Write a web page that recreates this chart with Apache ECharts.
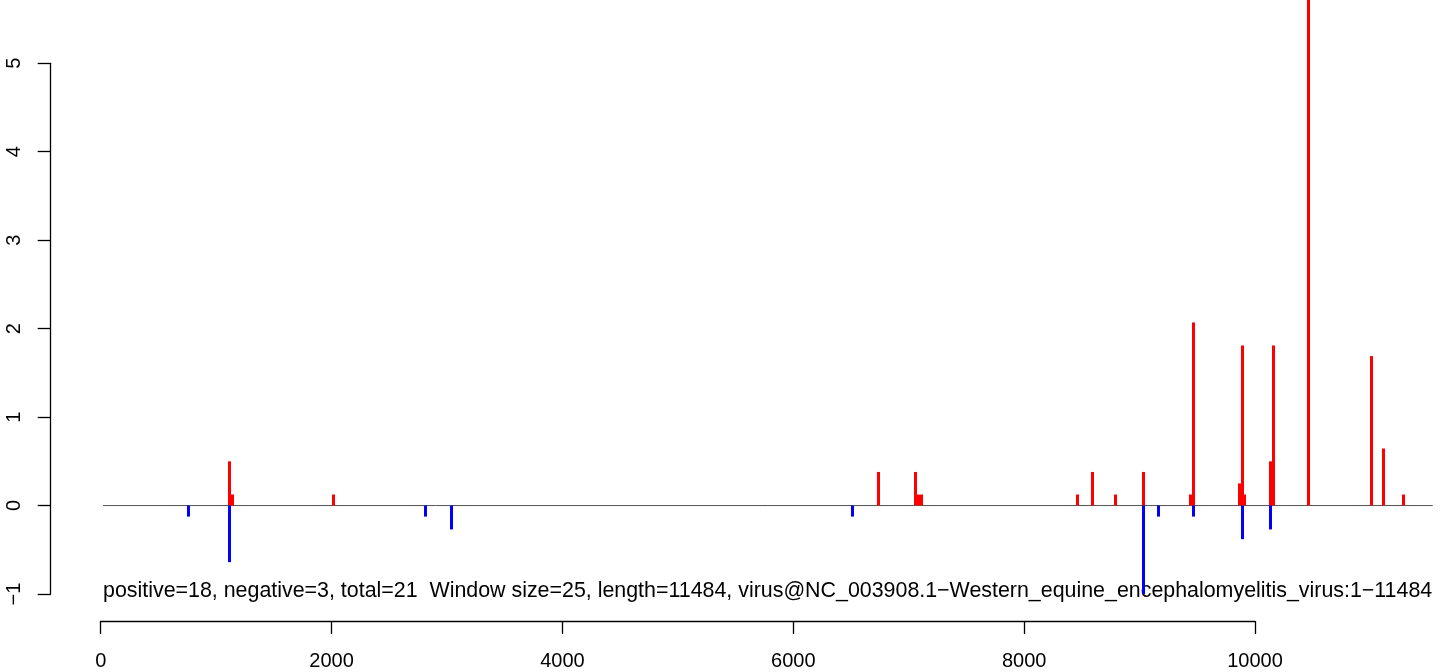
<!DOCTYPE html>
<html>
<head>
<meta charset="utf-8">
<script src="https://cdn.jsdelivr.net/npm/echarts@6/dist/echarts.min.js"></script>
<style>
html,body{margin:0;padding:0;background:#fff;}
#chart{width:1450px;height:672px;}
</style>
</head>
<body>
<div id="chart"></div>
<script>
// window start positions and scores
const WINDOW = 25;
const posX   = [1100, 1125, 2000, 6725, 7050, 7075, 7100, 8450, 8575, 8775, 9025, 9425, 9450, 9850, 9875, 9900, 10125, 10150, 10450, 11000, 11100, 11275];
const posVal = [0.5, 0.125, 0.125, 0.38, 0.38, 0.125, 0.125, 0.125, 0.38, 0.125, 0.38, 0.125, 2.07, 0.25, 1.81, 0.125, 0.5, 1.81, 5.9, 1.69, 0.645, 0.125];
const negX   = [750, 1100, 2800, 3025, 6500, 9025, 9150, 9450, 9875, 10125];
const negVal = [-0.125, -0.64, -0.125, -0.27, -0.125, -1.03, -0.125, -0.125, -0.38, -0.27];
const zeroLineX = [20, 11540];
const xTicks = [0, 2000, 4000, 6000, 8000, 10000];
const yTicks = [-1, 0, 1, 2, 3, 4, 5];
const infoText = 'positive=18, negative=3, total=21  Window size=25, length=11484, virus@NC_003908.1\u2212Western_equine_encephalomyelitis_virus:1\u221211484';

const FONT = "'Liberation Sans', Arial, sans-serif";

function barRenderer(color) {
  return function (params, api) {
    const x = api.value(0), v = api.value(1);
    const p0 = api.coord([x, 0]);
    const p1 = api.coord([x + WINDOW, v]);
    const x0 = Math.round(p0[0]);
    const x1 = Math.max(Math.round(p1[0]), x0 + 3);
    return {
      type: 'rect',
      shape: { x: x0, y: Math.min(p0[1], p1[1]), width: x1 - x0, height: Math.abs(p1[1] - p0[1]) },
      style: { fill: color }
    };
  };
}

const chart = echarts.init(document.getElementById('chart'), null, { renderer: 'canvas' });
const option = {
  animation: false,
  backgroundColor: '#ffffff',
  title: {
    text: infoText,
    left: 103, top: 580, z: 0, padding: 0,
    textStyle: { fontFamily: FONT, fontSize: 21.4, fontWeight: 'normal', color: '#000', lineHeight: 22 }
  },
  grid: [
    { left: 100.7, top: 0, width: 1339, height: 594 },            // data
    { left: 50.7, top: 63.3, width: 10, height: 530.7 },          // y axis
    { left: 100.7, top: 600, width: 1154.3, height: 21 }          // x axis
  ],
  xAxis: [
    { gridIndex: 0, type: 'value', min: 0, max: 11600, show: false },
    { gridIndex: 1, type: 'value', min: 0, max: 1, show: false },
    { gridIndex: 2, type: 'value', min: 0, max: 10000, interval: 2000, position: 'bottom',
      axisLine: { show: true, lineStyle: { color: '#000', width: 1.3 } },
      axisTick: { show: true, length: 13, lineStyle: { color: '#000', width: 1.3 } },
      axisLabel: { show: true, margin: 30, fontFamily: FONT, fontSize: 20, color: '#000',
        customValues: xTicks, formatter: v => String(v) },
      splitLine: { show: false } }
  ],
  yAxis: [
    { gridIndex: 0, type: 'value', min: -1, max: 5.716, show: false },
    { gridIndex: 1, type: 'value', min: -1, max: 5, interval: 1, position: 'left',
      axisLine: { show: true, lineStyle: { color: '#000', width: 1.3 } },
      axisTick: { show: true, length: 13, lineStyle: { color: '#000', width: 1.3 } },
      axisLabel: { show: true, rotate: 90, margin: 26, fontFamily: FONT, fontSize: 20, color: '#000',
        formatter: v => String(v).replace('-', '\u2212') },
      splitLine: { show: false } },
    { gridIndex: 2, type: 'value', min: 0, max: 1, show: false }
  ],
  series: [
    {
      type: 'line', xAxisIndex: 0, yAxisIndex: 0, z: 3,
      data: zeroLineX.map(x => [x, 0]),
      symbol: 'none', lineStyle: { color: '#555', width: 1 }, silent: true
    },
    {
      type: 'custom', xAxisIndex: 0, yAxisIndex: 0, z: 10, clip: true,
      renderItem: barRenderer('#ff0000'),
      data: posX.map((x, i) => [x, posVal[i]])
    },
    {
      type: 'custom', xAxisIndex: 0, yAxisIndex: 0, z: 10, clip: true,
      renderItem: barRenderer('#0000ff'),
      data: negX.map((x, i) => [x, negVal[i]])
    }
  ]
};
chart.setOption(option);
</script>
</body>
</html>
